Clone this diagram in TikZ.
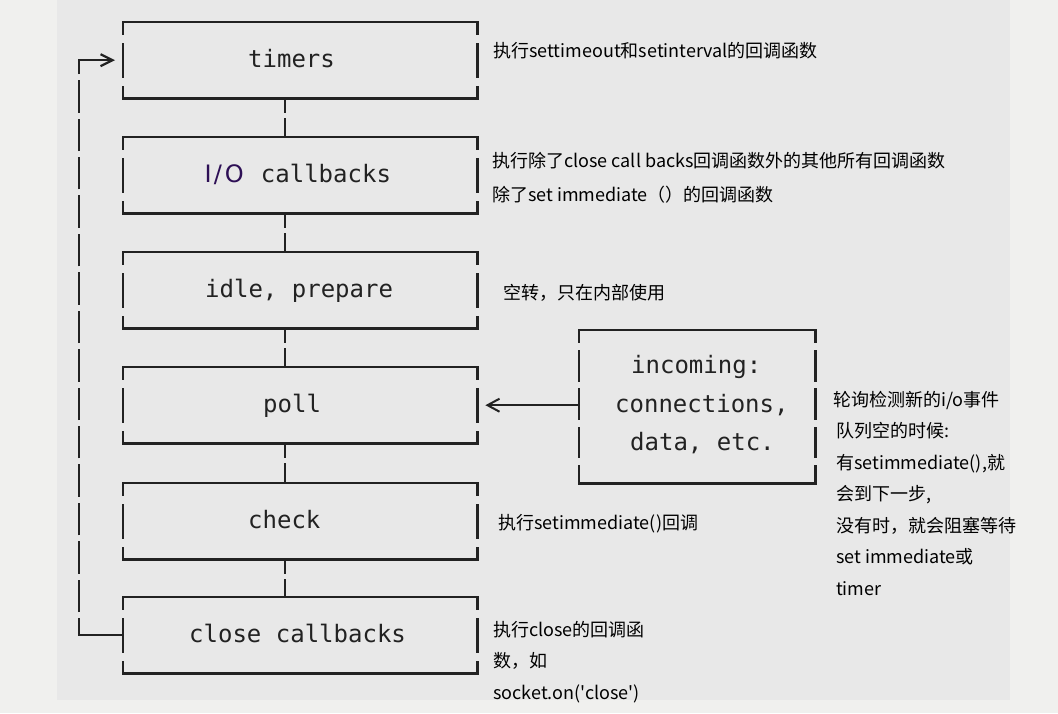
\documentclass[tikz,border=0pt]{standalone}
\usepackage{fontspec}
\setmonofont{DejaVu Sans Mono}
\newfontfamily\cjk{Noto Sans CJK SC}
\newfontfamily\iofont{DejaVu Sans}
\usetikzlibrary{arrows.meta}
\definecolor{outerbg}{RGB}{240,240,238}
\definecolor{innerbg}{RGB}{232,232,232}
\definecolor{ink}{RGB}{34,34,34}
\definecolor{iocol}{RGB}{45,15,85}
\newcommand\stagetext[2]{\vbox to 76pt{\offinterlineskip\vskip45.5pt\hbox to 354pt{\hskip#1pt\smash{#2}\hss}\vss}}
\begin{document}
\begin{tikzpicture}[x=1pt,y=-1pt,
  stage/.style={inner sep=0pt, anchor=north west, font=\ttfamily\fontsize{24pt}{28pt}\selectfont, text=ink},
  hline/.style={draw=ink, line width=2.2pt, line cap=rect},
  vside/.style={draw=ink, line width=2.2pt, dash pattern=on 13pt off 8pt on 35pt off 8pt on 12pt off 10pt},
  vsidetall/.style={draw=ink, line width=2.2pt, dash pattern=on 13pt off 7pt on 32pt off 6pt on 32pt off 7pt on 31pt off 7pt on 18pt off 5pt},
  conn/.style={draw=ink, line width=2.2pt, dash pattern=on 15pt off 5pt on 100pt off 1pt},
  feed/.style={draw=ink, line width=2pt, -{Straight Barb[length=12pt,width=13pt]}},
  loopline/.style={draw=ink, line width=2.2pt, line join=miter, -{Straight Barb[length=12pt,width=12pt]},
    dash pattern=on 61pt off 6pt on 32.43pt off 6pt on 32.43pt off 6pt on 32.43pt off 6pt on 32.43pt off 6pt
    on 32.43pt off 6pt on 32.43pt off 6pt on 32.43pt off 6pt on 32.43pt off 6pt on 32.43pt off 6pt
    on 32.43pt off 6pt on 32.43pt off 6pt on 32.43pt off 6pt on 32.43pt off 6pt on 32.43pt off 6pt
    on 300pt off 1pt},
  note/.style={anchor=base west, inner sep=0pt, font=\cjk\fontsize{18pt}{31.5pt}\selectfont, text=black}
]
\fill[outerbg] (0,0) rectangle (1058,713);
\fill[innerbg] (57,0) rectangle (1010,700);
\useasboundingbox (0,0) rectangle (1058,713);

\node[stage] (timers)  at (123,22)  {\stagetext{125}{timers}};
\node[stage] (io)      at (123,137) {\stagetext{80}{\makebox[43.3pt][l]{\hskip1.5pt\textcolor{iocol}{\iofont I\hskip2pt/\hskip3pt O}} callbacks}};
\node[stage] (idle)    at (123,252) {\stagetext{82}{idle, prepare}};
\node[stage] (poll)    at (123,367) {\stagetext{140}{poll}};
\node[stage] (check)   at (123,483) {\stagetext{125}{check}};
\node[stage] (closecb) at (123,597) {\stagetext{66}{close callbacks}};

\foreach \n in {timers,io,idle,poll,check,closecb}{
  \draw[hline] (\n.north west) -- (\n.north east);
  \draw[hline] (\n.south west) -- (\n.south east);
  \draw[vside] (\n.north west) -- (\n.south west);
  \draw[vside] (\n.north east) -- (\n.south east);
}

\draw[conn] ([xshift=162pt]timers.south west) -- ([xshift=162pt]io.north west);
\draw[conn] ([xshift=162pt]io.south west) -- ([xshift=162pt]idle.north west);
\draw[conn] ([xshift=162pt]idle.south west) -- ([xshift=162pt]poll.north west);
\draw[conn] ([xshift=162pt]poll.south west) -- ([xshift=162pt]check.north west);
\draw[conn] ([xshift=162pt]check.south west) -- ([xshift=162pt]closecb.north west);

\node[stage] (incoming) at (579,330) {\vbox to 153pt{\offinterlineskip\vskip43pt
  \hbox to 236pt{\hskip52pt\smash{incoming:}\hss}\vskip39pt
  \hbox to 236pt{\hskip36pt\smash{connections,}\hss}\vskip38pt
  \hbox to 236pt{\hskip51pt\smash{data, etc.}\hss}\vss}};
\draw[hline] (incoming.north west) -- (incoming.north east);
\draw[hline] (incoming.south west) -- (incoming.south east);
\draw[vsidetall] (incoming.north west) -- (incoming.south west);
\draw[vsidetall] (incoming.north east) -- (incoming.south east);

\draw[feed] (poll.east -| incoming.west) -- ([xshift=8pt]poll.east);
\draw[loopline] (closecb.west) -- ++(-44,0) |- ([xshift=-8pt]timers.west);

\node[note] (n1) at (493,57) {执行settimeout和setinterval的回调函数};
\node[note] (n2) at (492,167) {\vtop{\baselineskip=34pt\hbox{执行除了close call backs回调函数外的其他所有回调函数}\hbox{除了set immediate（）的回调函数}}};
\node[note] (n3) at (503,299) {空转，只在内部使用};
\node[note] (n4) at (833,406) {\vtop{\hbox{轮询检测新的i/o事件}\hbox{\hskip3pt 队列空的时候:}\hbox{\hskip3pt 有setimmediate(),就}\hbox{\hskip3pt 会到下一步,}\hbox{\hskip3pt 没有时，就会阻塞等待}\hbox{\hskip3pt set immediate或}\hbox{\hskip3pt timer}}};
\node[note] (n5) at (498,529) {执行setimmediate()回调};
\node[note] (n6) at (493,636) {\vtop{\hbox{执行close的回调函}\hbox{数，如}\hbox{socket.on('close')}}};
\end{tikzpicture}
\end{document}
